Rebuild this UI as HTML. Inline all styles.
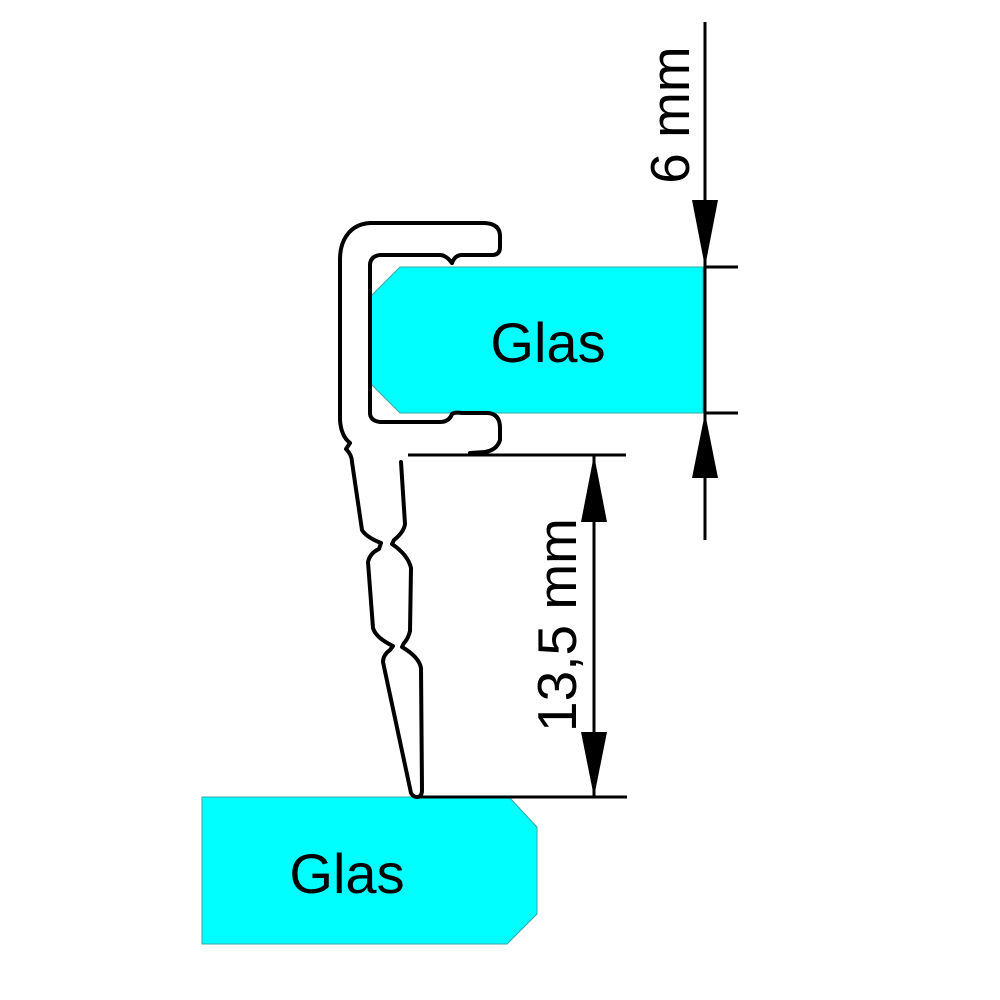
<!DOCTYPE html>
<html><head><meta charset="utf-8"><style>html,body{margin:0;padding:0;background:#fff}svg{display:block}</style></head>
<body>
<svg width="1000" height="1000" viewBox="0 0 1000 1000" xmlns="http://www.w3.org/2000/svg" font-family="Liberation Sans, Arial, sans-serif">
<rect width="1000" height="1000" fill="#fff"/>
<!-- glass pieces -->
<polygon points="400,267 703,267 703,413 400,413 370,383 370,297" fill="#00ffff" stroke="#3aa6a6" stroke-width="1"/>
<polygon points="202,797 509,797 537,827 537,914 507,944 202,944" fill="#00ffff" stroke="#3aa6a6" stroke-width="1"/>
<text x="548" y="362" font-size="56" text-anchor="middle">Glas</text>
<text x="347" y="893" font-size="56" text-anchor="middle">Glas</text>
<!-- profile -->
<g fill="none" stroke="#000" stroke-width="4" stroke-linejoin="round" stroke-linecap="round">
<path d="M452,263 Q455,255 462,255 L492,255 Q500,255 500,247 L500,236 Q500,224 485,223 L370,223 Q352,224 344,240 Q340,248 340,260 L340,420 Q341,436 350,443 L346,449 Q352,455 352,462 L362,530 Q366,537 381,543 L379,549 Q370,553 368,562 L373,628 Q376,638 393,646 L390,650 Q383,655 383,662 L411,793 Q413,797 417,797 Q422,797 422,790 L421,668 Q419,657 402,647 L404,643 Q408,639 410,631 L411,568 Q408,555 392,544 L394,540 Q404,532 405,524 L401,462"/>
<path d="M452,263 Q446,255 440,255 L380,255 Q371,256 370,264 L370,414 Q371,421 380,422 L440,422 Q449,422 452,414 Q455,412 462,413 L488,413 Q500,414 500,428 L500,440 Q497,450 485,452 L470,453"/>
</g>
<!-- dimension lines -->
<g stroke="#000" stroke-width="3" fill="none">
<line x1="705" y1="22" x2="705" y2="540"/>
<line x1="705" y1="267" x2="738" y2="267"/>
<line x1="705" y1="413" x2="738" y2="413"/>
<line x1="408" y1="455" x2="626" y2="455"/>
<line x1="417" y1="797" x2="627" y2="797"/>
<line x1="594" y1="455" x2="594" y2="797"/>
</g>
<g fill="#000">
<polygon points="692,200 718,200 705,267"/>
<polygon points="692,478 718,478 705,413"/>
<polygon points="581,522 607,522 594,455"/>
<polygon points="581,732 607,732 594,797"/>
</g>
<text transform="translate(689,115) rotate(-90)" font-size="55" text-anchor="middle">6 mm</text>
<text transform="translate(576,625) rotate(-90)" font-size="55" text-anchor="middle">13,5 mm</text>
</svg>
</body></html>
